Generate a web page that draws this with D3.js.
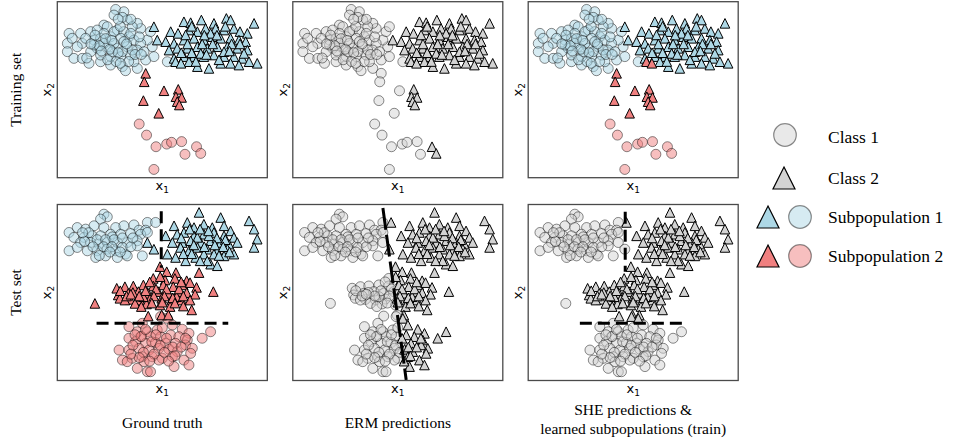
<!DOCTYPE html>
<html>
<head>
<meta charset="utf-8">
<script src="https://cdn.jsdelivr.net/npm/d3@7"></script>
<style>
    body { margin: 0; background: #fff; }
</style>
</head>
<body>
<div id="chart"></div>
<script>
/* Subpopulation toy example: training / test scatter panels */

// ---- training set points, [x1, x2] ----
const trainC1Sub1 = [[2.78,9.56],[3.17,9.43],[2.70,9.24],[3.33,8.96],[3.10,9.11],[0.56,8.20],[1.11,8.20],[1.59,8.30],
    [0.48,7.63],[1.19,7.63],[0.48,7.16],[0.79,6.78],[1.19,6.78],[1.51,6.50],[2.06,6.59],[2.54,6.40],[3.10,6.31],
    [3.25,6.08],[3.81,6.21],[3.65,6.59],[4.21,6.69],[4.60,6.88],[4.52,7.44],[4.29,7.82],[4.44,8.30],[3.97,8.48],
    [3.81,8.77],[3.57,8.58],[2.22,8.67],[1.90,8.39],[2.38,8.58],[2.86,8.39],[3.17,8.30],[3.41,8.01],[1.75,7.82],
    [2.06,7.92],[2.54,8.01],[3.02,7.92],[3.65,7.82],[3.97,7.63],[1.90,7.35],[2.38,7.44],[2.86,7.35],[3.33,7.44],
    [3.81,7.25],[4.13,7.16],[1.59,7.16],[2.06,6.97],[2.54,6.88],[3.02,6.88],[3.49,6.97],[5.24,6.59],[0.71,7.92],
    [0.95,7.44],[1.35,7.92],[2.22,8.20],[2.70,7.63],[3.17,7.73],[2.22,7.63],[2.62,7.16],[1.75,7.54],[3.57,7.25],[3.10,7.16],
    [1.80,8.10],[2.00,7.50],[2.30,7.90],[2.50,7.30],[2.70,8.30],[2.90,7.10],[3.00,8.60],[3.30,7.60],[3.50,8.20],
    [3.70,7.00],[2.40,6.70],[2.80,6.60],[3.40,6.60],[1.60,7.60],[2.10,7.20],[2.60,7.80],[3.90,8.00],[4.00,7.00],
    [2.90,9.00],[3.50,9.00],[1.40,6.80],[3.00,6.50]];
const trainC2Sub1 = [[4.60,8.58],[6.03,8.86],[6.35,8.81],[6.86,8.96],[7.46,8.77],[8.05,9.05],[9.37,8.77],[5.40,8.30],
    [5.75,8.20],[4.76,7.82],[5.16,7.73],[6.27,8.39],[6.67,8.30],[7.06,8.48],[7.54,8.48],[7.94,8.39],[8.41,8.48],
    [8.70,8.30],[9.05,8.20],[5.56,7.63],[6.03,7.82],[6.51,7.92],[6.98,7.82],[7.38,8.01],[7.78,7.92],[8.25,7.92],
    [8.65,7.82],[8.97,7.73],[5.32,7.25],[5.71,7.35],[6.19,7.35],[6.67,7.44],[7.14,7.35],[7.62,7.44],[8.10,7.44],
    [8.57,7.35],[9.05,7.25],[5.56,6.78],[6.03,6.88],[6.51,6.88],[6.98,6.88],[7.46,6.97],[7.94,6.88],[8.41,6.88],
    [8.81,6.78],[5.63,6.59],[6.27,6.59],[6.67,6.31],[7.22,6.21],[7.78,6.50],[8.25,6.50],[8.65,6.40],[9.52,6.50],
    [7.30,8.20],[6.83,7.06],[6.11,8.11],[7.94,7.16],[8.89,7.06],[9.13,6.59],[8.25,8.96],[5.89,6.50],
    [6.40,8.60],[7.00,8.10],[7.60,8.10],[8.00,8.60],[6.20,7.60],[6.90,7.60],[7.40,7.60],[8.30,7.60],[6.40,7.10],
    [7.10,7.00],[7.70,6.70],[8.20,7.20],[5.90,7.10],[8.70,7.60],[6.60,6.60]];
const trainC2Sub2 = [[4.21,5.93],[4.14,5.45],[4.10,4.38],[5.08,4.94],[5.76,5.02],[5.65,4.60],[5.92,4.56],
    [5.71,4.32],[5.81,4.13],[4.83,3.66]];
const trainC1Sub2 = [[3.90,3.05],[4.25,2.42],[4.70,1.76],[5.21,1.91],[5.44,2.01],[5.92,2.05],[6.63,1.76],
    [6.83,1.38],[6.08,1.33],[4.60,0.47]];

// ERM predictions on training set that differ from the true class (indices)
const ermTrainFlipC2Sub1 = [0];
const ermTrainFlipC2Sub2 = [0, 1, 2, 3, 9];
const ermTrainFlipC1Sub2 = [6, 7];
// SHE: class-2 subpopulation-1 points that were assigned to subpopulation 2
const sheTrainToSub2 = [45, 60];

// ---- test set points ----
const testC1Sub1 = [[2.22,9.45],[2.38,9.30],[2.06,9.17],[0.56,8.41],[0.95,8.69],[1.35,8.60],[1.75,8.79],[2.22,8.69],
    [2.78,8.69],[3.17,8.79],[3.65,8.84],[4.29,8.98],[4.68,8.98],[3.89,8.54],[4.21,8.54],[0.79,8.13],[1.27,8.13],
    [1.67,8.22],[2.06,8.22],[2.54,8.31],[3.02,8.31],[3.49,8.35],[3.97,8.31],[1.11,7.84],[1.59,7.84],[1.98,7.75],
    [2.38,7.84],[2.86,7.84],[3.33,7.84],[3.81,7.94],[0.56,7.37],[1.43,7.37],[1.90,7.37],[2.38,7.46],[2.78,7.37],
    [3.25,7.18],[3.81,7.65],[4.05,7.08],[1.83,6.99],[2.30,7.08],[2.86,6.99],[3.33,7.08],[0.95,7.56],[4.29,8.41],
    [2.62,8.16],[3.10,7.56],
    [1.50,8.40],[1.90,8.00],[2.30,8.00],[2.70,8.00],[3.10,8.10],[1.70,7.60],[2.20,7.60],[2.60,7.60],[3.00,7.30],
    [3.50,7.60],[1.30,7.90],[2.00,7.10],[2.50,7.30],[3.60,8.10],[1.20,8.40]];
const testC2Sub1 = [[6.75,9.55],[7.78,9.26],[9.13,9.07],[5.56,8.79],[6.19,8.98],[6.51,8.69],[6.98,8.88],[7.38,8.69],
    [7.94,8.79],[8.25,8.50],[9.37,8.60],[5.16,8.22],[5.71,8.31],[6.03,8.41],[6.51,8.22],[6.98,8.31],[7.46,8.41],
    [7.94,8.22],[8.41,8.13],[9.52,8.03],[4.29,7.84],[5.48,7.84],[5.95,7.84],[6.35,7.94],[6.83,7.84],[7.30,7.94],
    [7.78,7.84],[8.17,7.75],[8.57,7.84],[4.60,7.46],[5.24,7.18],[5.87,7.56],[6.27,7.37],[6.67,7.56],[7.14,7.46],
    [7.62,7.37],[8.10,7.46],[9.37,7.56],[6.11,6.80],[6.59,6.99],[6.98,7.18],[7.46,7.18],[7.94,7.08],[8.41,7.18],
    [7.30,6.61],[7.62,6.52],[5.63,6.99],[7.14,6.80],[6.67,8.13],[7.22,8.22],
    [5.90,8.10],[6.30,8.60],[6.80,8.60],[7.20,8.50],[7.60,8.10],[8.00,8.00],[6.50,7.70],[7.00,7.60],[7.50,7.70],
    [7.90,7.60],[6.00,7.20],[6.40,7.20],[7.70,7.10],[8.20,7.30],[6.80,6.80]];
const testC2Sub2 = [[4.89,6.47],[5.21,6.18],[5.65,6.13],[6.75,6.13],[4.57,5.80],[5.13,5.71],[5.60,5.80],[6.16,5.67],
    [2.83,5.24],[3.22,5.33],[3.62,5.37],[4.10,5.43],[4.57,5.37],[5.05,5.43],[5.52,5.33],[6.00,5.43],[6.32,5.56],
    [6.63,5.29],[7.43,5.05],[2.90,4.86],[3.38,4.95],[3.86,5.05],[4.33,4.95],[4.81,5.05],[5.29,4.95],[5.76,5.05],
    [6.16,4.99],[6.56,4.90],[1.79,4.38],[2.98,4.67],[3.46,4.61],[3.94,4.57],[4.41,4.63],[4.97,4.67],[5.44,4.57],
    [5.92,4.57],[6.32,4.57],[3.70,4.38],[4.25,4.35],[4.89,4.29],[5.37,4.20],[6.00,4.23],[6.40,4.01],[4.33,3.66],
    [4.97,3.72],[5.29,3.72],[3.22,4.57],[5.68,4.76],[4.10,4.76],
    [3.00,5.10],[3.60,5.00],[4.20,5.10],[4.70,5.20],[5.20,5.20],[5.80,5.20],[3.30,4.80],[3.90,4.80],[4.60,4.80],
    [5.10,4.80],[5.50,4.70],[6.00,4.80],[4.50,4.40],[5.00,4.45],[5.60,4.40],[4.00,4.20],[3.50,4.90],[5.90,5.60],
    [4.40,5.60],[4.90,5.90]];
const testC1Sub2 = [[4.92,3.63],[5.24,3.53],[4.05,3.25],[3.41,3.06],[5.48,3.15],[5.95,2.91],[7.30,2.77],[3.81,2.77],
    [4.29,2.77],[4.76,2.87],[6.27,2.68],[6.90,2.40],[3.41,2.40],[3.97,2.49],[4.44,2.49],[4.92,2.49],[5.40,2.59],
    [5.79,2.49],[6.19,2.30],[3.73,2.21],[4.21,2.11],[4.68,2.15],[5.16,2.11],[5.63,2.11],[6.11,2.02],[6.43,1.83],
    [2.94,1.73],[3.41,1.73],[3.89,1.83],[4.37,1.73],[4.84,1.83],[5.32,1.77],[5.71,1.64],[6.35,1.54],[3.10,1.16],
    [3.57,1.26],[4.05,1.35],[4.52,1.35],[5.00,1.26],[5.48,1.35],[6.03,1.16],[3.33,1.07],[3.81,0.69],[4.29,0.50],
    [4.44,0.50],[5.56,0.79],[6.27,0.88],[4.84,1.16],[4.13,1.07],
    [4.00,2.50],[4.50,2.20],[4.90,2.00],[5.20,2.40],[5.50,1.90],[3.60,2.00],[4.10,1.60],[4.60,1.50],[5.10,1.60],
    [5.60,1.40],[3.90,1.30],[4.40,1.10],[5.30,1.10],[3.50,1.50],[4.70,2.60],[5.90,1.90],[4.20,2.90],[5.00,3.00],
    [3.70,2.60],[6.10,2.40]];

// decision boundaries (test set)
const gtBoundary = [[[4.95, 9.62], [4.95, 6.40]], [[1.87, 3.25], [8.14, 3.25]]];
const ermBoundary = [[[4.29, 9.80], [5.40, 0.03]]];
const sheBoundary = [[[4.62, 9.59], [4.62, 6.18]], [[2.46, 3.25], [7.38, 3.25]]];
const sheTopSplitY = 6.2, sheBandSplitY = 3.25, sheBandLeftX = 2.3;

// labels
const rowLabels = ["Training set", "Test set"];
const colLabels = [["Ground truth"], ["ERM predictions"], ["SHE predictions &", "learned subpopulations (train)"]];
const legendLabels = ["Class 1", "Class 2", "Subpopulation 1", "Subpopulation 2"];

const colors = { sub1: "#add8e6", sub2: "#f08080", none: "#d3d3d3" };

// layout
const width = 953,
    height = 444,
    panelW = 210,
    panelH = 176,
    colX = [57.3, 292.8, 528.2],
    rowY = [1.7, 204.5];

let svg = d3.select("#chart")
    .append("svg")
    .attr("width", width)
    .attr("height", height);

let x = d3.scaleLinear().domain([0, 10]).range([0, panelW]);
let y = d3.scaleLinear().domain([0, 10]).range([panelH, 0]);

const tri = a => `M0,${-a}L${a},${a}L${-a},${a}Z`;

function ermX(yv) {
    const [[x0, y0], [x1, y1]] = ermBoundary[0];
    return x0 + (y0 - yv) / (y0 - y1) * (x1 - x0);
}
function sheShape(d) {
    if (d.y > sheTopSplitY) return d.x > sheBoundary[0][0][0] ? "tri" : "circle";
    if (d.y > sheBandSplitY && d.x > sheBandLeftX) return "tri";
    return "circle";
}

const trainAll = [];
trainC1Sub1.forEach(d => trainAll.push({ x: d[0], y: d[1], cls: 1, sub: 1, erm: 1, she: 1 }));
trainC2Sub1.forEach((d, i) => trainAll.push({ x: d[0], y: d[1], cls: 2, sub: 1,
    erm: ermTrainFlipC2Sub1.includes(i) ? 1 : 2, she: sheTrainToSub2.includes(i) ? 2 : 1 }));
trainC2Sub2.forEach((d, i) => trainAll.push({ x: d[0], y: d[1], cls: 2, sub: 2,
    erm: ermTrainFlipC2Sub2.includes(i) ? 1 : 2, she: 2 }));
trainC1Sub2.forEach((d, i) => trainAll.push({ x: d[0], y: d[1], cls: 1, sub: 2,
    erm: ermTrainFlipC1Sub2.includes(i) ? 2 : 1, she: 2 }));

const testAll = [];
testC1Sub1.forEach(d => testAll.push({ x: d[0], y: d[1], cls: 1, sub: 1 }));
testC2Sub1.forEach(d => testAll.push({ x: d[0], y: d[1], cls: 2, sub: 1 }));
testC2Sub2.forEach(d => testAll.push({ x: d[0], y: d[1], cls: 2, sub: 2 }));
testC1Sub2.forEach(d => testAll.push({ x: d[0], y: d[1], cls: 1, sub: 2 }));

const shapeOf = c => c === 1 ? "circle" : "tri";
const subColor = s => s === 1 ? colors.sub1 : colors.sub2;

const panels = [
    { r: 0, c: 0, data: trainAll.map(d => ({ x: d.x, y: d.y, shape: shapeOf(d.cls), color: subColor(d.sub) })), lines: [] },
    { r: 0, c: 1, data: trainAll.map(d => ({ x: d.x, y: d.y, shape: shapeOf(d.erm), color: colors.none })), lines: [] },
    { r: 0, c: 2, data: trainAll.map(d => ({ x: d.x, y: d.y, shape: shapeOf(d.cls), color: subColor(d.she) })), lines: [] },
    { r: 1, c: 0, data: testAll.map(d => ({ x: d.x, y: d.y, shape: shapeOf(d.cls), color: subColor(d.sub) })), lines: gtBoundary, dash: "12,6" },
    { r: 1, c: 1, data: testAll.map(d => ({ x: d.x, y: d.y, shape: d.x > ermX(d.y) ? "tri" : "circle", color: colors.none })), lines: ermBoundary, dash: "22,5" },
    { r: 1, c: 2, data: testAll.map(d => ({ x: d.x, y: d.y, shape: sheShape(d), color: colors.none })), lines: sheBoundary, dash: "12,6" }
];

for (let p of panels) {
    let g = svg.append("g")
        .attr("transform", `translate(${colX[p.c]},${rowY[p.r]})`);

    // circles first, triangles on top
    g.selectAll(".dot")
        .data(p.data.filter(d => d.shape === "circle"))
        .join("circle")
        .attr("class", "dot")
        .attr("cx", d => x(d.x))
        .attr("cy", d => y(d.y))
        .attr("r", 5)
        .attr("fill", d => d.color)
        .attr("fill-opacity", 0.5)
        .attr("stroke", "#000")
        .attr("stroke-opacity", 0.45)
        .attr("stroke-width", 1);

    g.selectAll(".tri")
        .data(p.data.filter(d => d.shape === "tri"))
        .join("path")
        .attr("class", "tri")
        .attr("d", tri(4.8))
        .attr("transform", d => `translate(${x(d.x)},${y(d.y)})`)
        .attr("fill", d => d.color)
        .attr("stroke", "#000")
        .attr("stroke-width", 1);

    // boundaries
    g.selectAll(".bound")
        .data(p.lines)
        .join("path")
        .attr("class", "bound")
        .attr("d", d3.line().x(d => x(d[0])).y(d => y(d[1])))
        .attr("fill", "none")
        .attr("stroke", "#000")
        .attr("stroke-width", 3)
        .attr("stroke-dasharray", p.dash);

    // frame
    g.append("rect")
        .attr("width", panelW)
        .attr("height", panelH)
        .attr("fill", "none")
        .attr("stroke", "#4a4a4a")
        .attr("stroke-width", 1.3);

    // axis labels
    let xl = g.append("text")
        .attr("x", panelW / 2)
        .attr("y", panelH + 12)
        .attr("text-anchor", "middle")
        .style("font-family", "DejaVu Sans")
        .style("font-size", "13px");
    xl.append("tspan").text("x");
    xl.append("tspan").attr("dy", 3).style("font-size", "9px").text("1");

    let yl = g.append("text")
        .attr("transform", `translate(-6,${panelH / 2}) rotate(-90)`)
        .attr("text-anchor", "middle")
        .style("font-family", "DejaVu Sans")
        .style("font-size", "13px");
    yl.append("tspan").text("x");
    yl.append("tspan").attr("dy", 3).style("font-size", "9px").text("2");
}

// row labels
svg.selectAll(".rowlab")
    .data(rowLabels)
    .join("text")
    .attr("class", "rowlab")
    .attr("transform", (d, i) => `translate(21,${rowY[i] + panelH / 2}) rotate(-90)`)
    .attr("text-anchor", "middle")
    .style("font-family", "Liberation Serif")
    .style("font-size", "15.5px")
    .text(d => d);

// column labels
colLabels.forEach((lines, i) => {
    let t = svg.append("text")
        .attr("text-anchor", "middle")
        .style("font-family", "Liberation Serif")
        .style("font-size", "15.5px");
    const base = lines.length === 1 ? 428 : 415;
    lines.forEach((l, j) => {
        t.append("tspan")
            .attr("x", colX[i] + panelW / 2)
            .attr("y", base + j * 19)
            .text(l);
    });
});

// legend
const legendY = [135, 178, 217, 256];
let lg = svg.append("g");
const legCircle = (cx, cy, fill) => lg.append("circle")
    .attr("cx", cx).attr("cy", cy).attr("r", 11.3)
    .attr("fill", fill).attr("fill-opacity", 0.5)
    .attr("stroke", "#000").attr("stroke-opacity", 0.45).attr("stroke-width", 1.2);
const legTri = (cx, cy, fill) => lg.append("path")
    .attr("d", tri(11)).attr("transform", `translate(${cx},${cy})`)
    .attr("fill", fill).attr("stroke", "#000").attr("stroke-width", 1.2);

legCircle(785, legendY[0], colors.none);
legTri(784, legendY[1], colors.none);
legTri(768, legendY[2], colors.sub1);
legCircle(800, legendY[2], colors.sub1);
legTri(768, legendY[3], colors.sub2);
legCircle(800, legendY[3], colors.sub2);

lg.selectAll(".leglab")
    .data(legendLabels)
    .join("text")
    .attr("class", "leglab")
    .attr("x", 828)
    .attr("y", (d, i) => legendY[i] + 6 + (i === 0 ? 2 : 0))
    .style("font-family", "Liberation Serif")
    .style("font-size", "17.5px")
    .text(d => d);
</script>
</body>
</html>
